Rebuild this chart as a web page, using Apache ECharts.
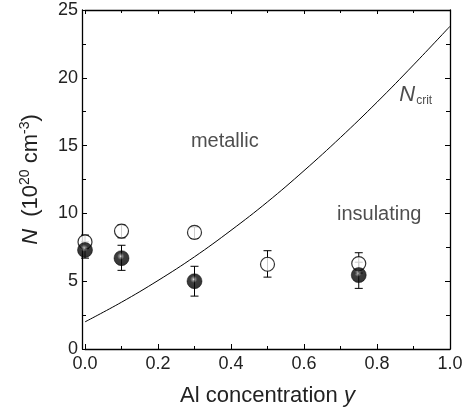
<!DOCTYPE html>
<html>
<head>
<meta charset="utf-8">
<script src="https://cdn.jsdelivr.net/npm/echarts@6/dist/echarts.min.js"></script>
<style>
  html, body { margin: 0; padding: 0; background: #fff; }
  #chart { width: 470px; height: 413px; }
</style>
</head>
<body>
<div id="chart"></div>
<script>
// Al concentration y
const openX = [0, 0.1, 0.3, 0.5, 0.75];
const openN = [7.9, 8.7, 8.6, 6.25, 6.3];
const openLow = [7.4, 8.2, 8.15, 5.3, 5.6];
const openHigh = [8.4, 9.15, 9.0, 7.25, 7.1];

const solidX = [0, 0.1, 0.3, 0.75];
const solidN = [7.3, 6.7, 5.0, 5.45];
const solidLow = [6.7, 5.8, 3.9, 4.47];
const solidHigh = [7.9, 7.65, 6.1, 6.4];

// N_crit curve
const critX = [0, 0.1, 0.2, 0.3, 0.4, 0.5, 0.6, 0.7, 0.8, 0.9, 1.0];
const critN = [2.0, 3.45, 5.05, 6.8, 8.75, 10.85, 13.15, 15.6, 18.2, 20.95, 23.8];

const notes = [
  { x: 0.383, y: 15.3, text: "metallic" },
  { x: 0.806, y: 9.95, text: "insulating" },
  { x: 0.906, y: 18.75, text: "{n|N}{s|crit}" },
];

const font = "Liberation Sans, Arial, sans-serif";
const ink = "#222";

const zip = (xs, ys) => xs.map((x, i) => [x, ys[i]]);
const bars = (xs, lo, hi) => xs.map((x, i) => [x, lo[i], hi[i]]);

const renderErr = (params, api) => {
  const x = api.value(0);
  const p1 = api.coord([x, api.value(1)]);
  const p2 = api.coord([x, api.value(2)]);
  const w = 4;
  const st = { stroke: "#000", lineWidth: 1 };
  return {
    type: "group",
    children: [
      { type: "line", shape: { x1: p1[0], y1: p1[1], x2: p2[0], y2: p2[1] }, style: st },
      { type: "line", shape: { x1: p1[0] - w, y1: p1[1], x2: p1[0] + w, y2: p1[1] }, style: st },
      { type: "line", shape: { x1: p2[0] - w, y1: p2[1], x2: p2[0] + w, y2: p2[1] }, style: st },
    ],
  };
};

// black ball with a small shine
const sphere = new echarts.graphic.RadialGradient(0.45, 0.38, 0.65, [
  { offset: 0, color: "#e0e0e0" },
  { offset: 0.12, color: "#7a7a7a" },
  { offset: 0.35, color: "#0c0c0c" },
  { offset: 1, color: "#000" },
]);

const chart = echarts.init(document.getElementById("chart"));
chart.setOption({
  animation: false,
  backgroundColor: "#fff",
  grid: { left: 85, right: 20, top: 10, bottom: 64 },
  xAxis: [
    {
      type: "value",
      min: 0,
      max: 1,
      interval: 0.2,
      name: "Al concentration {i|y}",
      nameLocation: "middle",
      nameGap: 36,
      nameTextStyle: {
        fontFamily: font,
        fontSize: 22,
        color: ink,
        rich: { i: { fontFamily: font, fontSize: 22, fontStyle: "italic", color: ink } },
      },
      axisLine: { onZero: false, lineStyle: { color: "#000", width: 1.3 } },
      axisTick: { inside: true, length: 5, lineStyle: { color: "#000" } },
      minorTick: { show: true, splitNumber: 2, length: 3, lineStyle: { color: "#000" } },
      axisLabel: {
        fontFamily: font,
        fontSize: 18,
        color: ink,
        margin: 6,
        formatter: (v) => v.toFixed(1),
      },
      splitLine: { show: false },
    },
    {
      type: "value",
      position: "top",
      min: 0,
      max: 1,
      interval: 0.2,
      axisLine: { show: true, onZero: false, lineStyle: { color: "#000", width: 1.3 } },
      axisTick: { inside: true, length: 4, lineStyle: { color: "#000" } },
      minorTick: { show: true, splitNumber: 2, length: 3, lineStyle: { color: "#000" } },
      axisLabel: { show: false },
      splitLine: { show: false },
    },
  ],
  yAxis: [
    {
      type: "value",
      min: 0,
      max: 25,
      interval: 5,
      offset: 3,
      name: "{i|N}  (10{sup|20} cm{sup|-3})",
      nameLocation: "middle",
      nameRotate: 90,
      nameGap: 38,
      nameTextStyle: {
        fontFamily: font,
        fontSize: 22,
        color: ink,
        rich: {
          i: { fontFamily: font, fontSize: 22, fontStyle: "italic", color: ink },
          sup: { fontFamily: font, fontSize: 14, color: ink, verticalAlign: "top", padding: [0, 0, 12, 0] },
        },
      },
      axisLine: { show: true, onZero: false, lineStyle: { color: "#000", width: 1.3 } },
      axisTick: { inside: true, length: 5, lineStyle: { color: "#000" } },
      minorTick: { show: true, splitNumber: 2, length: 4, lineStyle: { color: "#000" } },
      axisLabel: { fontFamily: font, fontSize: 18, color: ink, margin: 4 },
      splitLine: { show: false },
    },
    {
      type: "value",
      position: "right",
      min: 0,
      max: 25,
      interval: 5,
      axisLine: { show: true, onZero: false, lineStyle: { color: "#000", width: 1.3 } },
      axisTick: { inside: true, length: 5, lineStyle: { color: "#000" } },
      minorTick: { show: true, splitNumber: 2, length: 4, lineStyle: { color: "#000" } },
      axisLabel: { show: false },
      splitLine: { show: false },
    },
  ],
  series: [
    {
      name: "N_crit",
      type: "line",
      smooth: 0.4,
      showSymbol: false,
      lineStyle: { color: "#000", width: 1 },
      data: zip(critX, critN),
      z: 2,
    },
    {
      name: "open err",
      type: "custom",
      renderItem: renderErr,
      data: bars(openX, openLow, openHigh),
      z: 3,
    },
    {
      name: "solid err",
      type: "custom",
      renderItem: renderErr,
      data: bars(solidX, solidLow, solidHigh),
      z: 3,
    },
    {
      name: "open",
      type: "scatter",
      symbol: "circle",
      symbolSize: 14,
      itemStyle: { color: "#fff", borderColor: "#000", borderWidth: 1.2 },
      data: zip(openX, openN),
      z: 4,
    },
    {
      name: "solid",
      type: "scatter",
      symbol: "circle",
      symbolSize: 15,
      itemStyle: { color: sphere, borderColor: "#000", borderWidth: 0.6 },
      data: zip(solidX, solidN),
      z: 5,
    },
    {
      name: "notes",
      type: "scatter",
      symbolSize: 0,
      silent: true,
      data: notes.map((d) => ({ value: [d.x, d.y], text: d.text })),
      label: {
        show: true,
        position: "inside",
        formatter: (p) => p.data.text,
        fontFamily: font,
        fontSize: 20,
        color: ink,
        rich: {
          n: { fontFamily: font, fontSize: 22, fontStyle: "italic", color: ink },
          s: { fontFamily: font, fontSize: 12, color: ink, verticalAlign: "bottom", padding: [12, 0, 0, 1] },
        },
      },
      z: 6,
    },
  ],
});
</script>
</body>
</html>
